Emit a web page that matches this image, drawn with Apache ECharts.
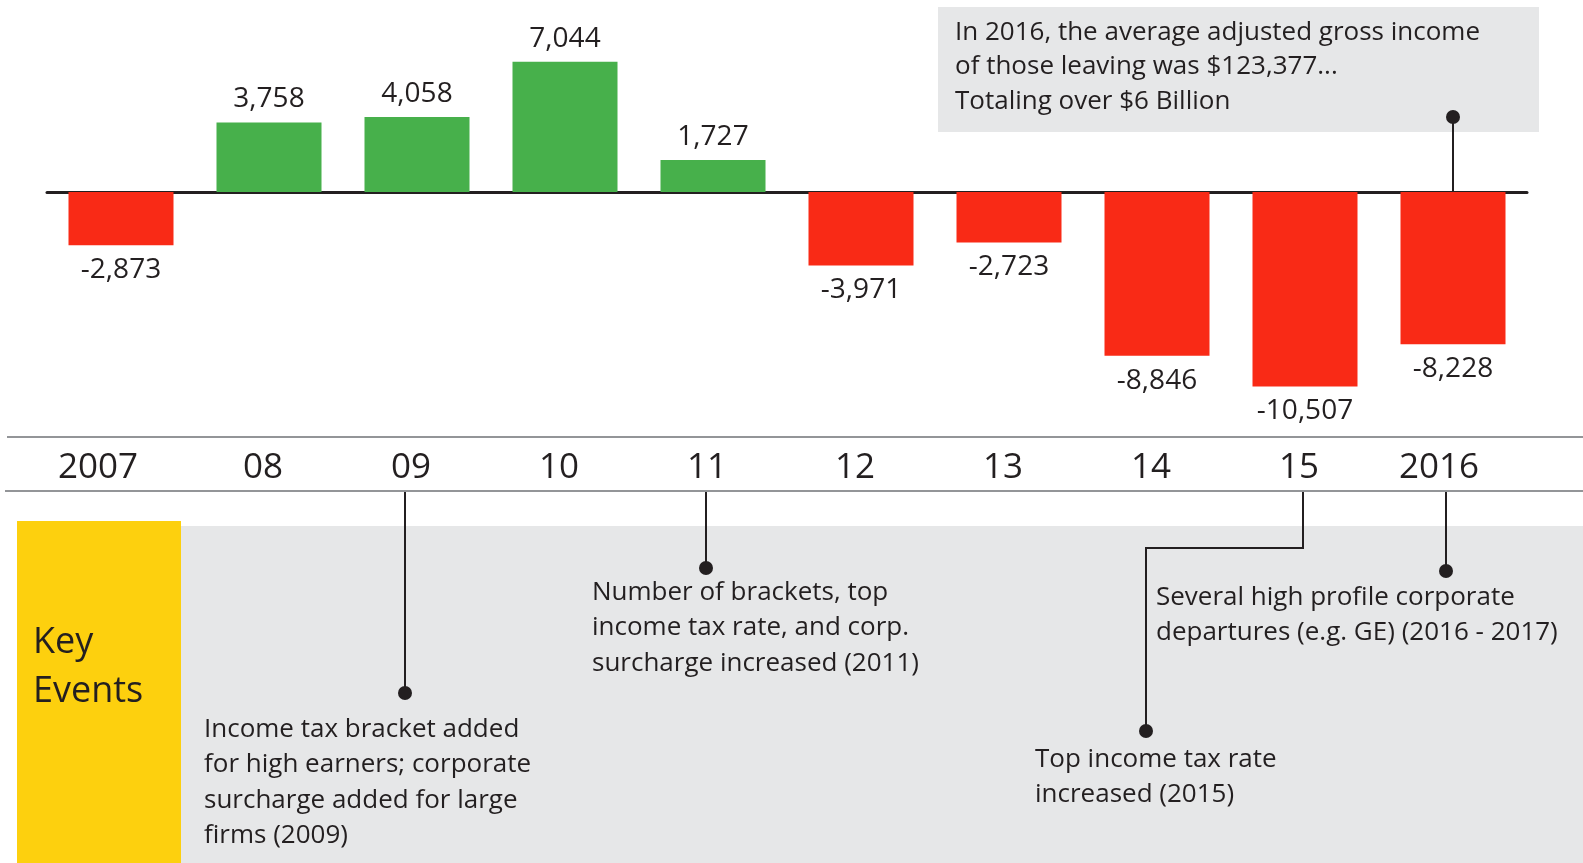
<!DOCTYPE html>
<html>
<head>
<meta charset="utf-8">
<script src="https://cdn.jsdelivr.net/npm/echarts@6/dist/echarts.min.js"></script>
<style>
  html, body { margin: 0; padding: 0; background: #fff; }
  #chart { width: 1583px; height: 863px; }
</style>
</head>
<body>
<div id="chart"></div>
<script>
// timeline years (bar categories + tick labels)
var years = ['2007', '08', '09', '10', '11', '12', '13', '14', '15', '2016'];
// net change per year
var netChange = [-2873, 3758, 4058, 7044, 1727, -3971, -2723, -8846, -10507, -8228];

var GREEN = '#47b04b';
var RED = '#f92a16';
var INK = '#231f20';
var PANEL = '#e6e7e8';
var FONT = '"Open Sans", sans-serif';

var barData = netChange.map(function (v) {
  return {
    value: v,
    itemStyle: { color: v >= 0 ? GREEN : RED },
    label: { position: v >= 0 ? 'top' : 'bottom', distance: v >= 0 ? 9 : 11 }
  };
});

function txt(x, y, text, size, lh) {
  return {
    type: 'text', x: x, y: y, z: 5,
    style: {
      text: text, fill: INK, font: size + 'px ' + FONT,
      lineHeight: lh, verticalAlign: 'top', align: 'left'
    }
  };
}
function path(points) {
  return {
    type: 'polyline', z: 5,
    shape: { points: points },
    style: { stroke: INK, lineWidth: 2, fill: null }
  };
}
function dot(x, y) {
  return { type: 'circle', z: 6, shape: { cx: x, cy: y, r: 7 }, style: { fill: INK } };
}

var yearStyle = { fontSize: 35, color: INK, fontFamily: FONT };

var chart = echarts.init(document.getElementById('chart'));
chart.setOption({
  animation: false,
  textStyle: { fontFamily: FONT },
  grid: [
    { left: 47, width: 1480, top: 7, height: 407 },
    { left: 41, width: 1480, top: 437, height: 54 }
  ],
  xAxis: [
    {
      type: 'category', gridIndex: 0, data: years,
      axisLine: { onZero: true, lineStyle: { color: INK, width: 3 } },
      axisTick: { show: false },
      axisLabel: { show: false }
    },
    {
      type: 'category', gridIndex: 1, data: years, position: 'bottom',
      axisLine: { show: false },
      axisTick: { show: false },
      axisLabel: {
        inside: true, margin: 23, verticalAlign: 'middle', interval: 0,
        hideOverlap: false,
        fontSize: 35, color: INK, fontFamily: FONT,
        // the end years sit a little left of their columns
        formatter: function (v, i) {
          if (i === 0) return '{first|' + v + '}';
          if (i === years.length - 1) return '{last|' + v + '}';
          return v;
        },
        rich: {
          first: Object.assign({ padding: [0, 34, 0, 0] }, yearStyle),
          last: Object.assign({ padding: [0, 16, 0, 0] }, yearStyle)
        }
      }
    }
  ],
  yAxis: [
    { type: 'value', gridIndex: 0, min: -12000, max: 10000, show: false },
    { type: 'value', gridIndex: 1, show: false }
  ],
  series: [{
    type: 'bar',
    xAxisIndex: 0, yAxisIndex: 0,
    barWidth: 105,
    data: barData,
    label: {
      show: true, fontSize: 28, color: INK, fontFamily: FONT,
      formatter: function (p) { return p.value.toLocaleString('en-US'); }
    }
  }],
  graphic: [
    // top note box
    { type: 'rect', z: 0, shape: { x: 938, y: 7, width: 601, height: 125 }, style: { fill: PANEL } },
    txt(955, 15, 'In 2016, the average adjusted gross income\nof those leaving was $123,377...\nTotaling over $6 Billion', 26, 34.5),
    path([[1453, 117], [1453, 192]]),
    dot(1453, 117),

    // timeline rules
    { type: 'line', z: 1, shape: { x1: 7, y1: 437, x2: 1583, y2: 437 }, style: { stroke: '#939598', lineWidth: 2 } },
    { type: 'line', z: 1, shape: { x1: 5, y1: 491, x2: 1583, y2: 491 }, style: { stroke: '#939598', lineWidth: 2 } },

    // key events panel
    { type: 'rect', z: 0, shape: { x: 181, y: 526, width: 1402, height: 337 }, style: { fill: PANEL } },
    { type: 'rect', z: 1, shape: { x: 17, y: 521, width: 164, height: 342 }, style: { fill: '#fdd00e' } },
    txt(33, 618, 'Key\nEvents', 36, 49),

    path([[405, 492], [405, 693]]),
    dot(405, 693),
    txt(204, 712, 'Income tax bracket added\nfor high earners; corporate\nsurcharge added for large\nfirms (2009)', 26, 35.3),

    path([[706, 492], [706, 568]]),
    dot(706, 568),
    txt(592, 575, 'Number of brackets, top\nincome tax rate, and corp.\nsurcharge increased (2011)', 26, 35.3),

    path([[1303, 492], [1303, 548], [1146, 548], [1146, 731]]),
    dot(1146, 731),
    txt(1035, 742, 'Top income tax rate\nincreased (2015)', 26, 35.3),

    path([[1446, 492], [1446, 571]]),
    dot(1446, 571),
    txt(1156, 580, 'Several high profile corporate\ndepartures (e.g. GE) (2016 - 2017)', 26, 35.3)
  ]
});
</script>
</body>
</html>
